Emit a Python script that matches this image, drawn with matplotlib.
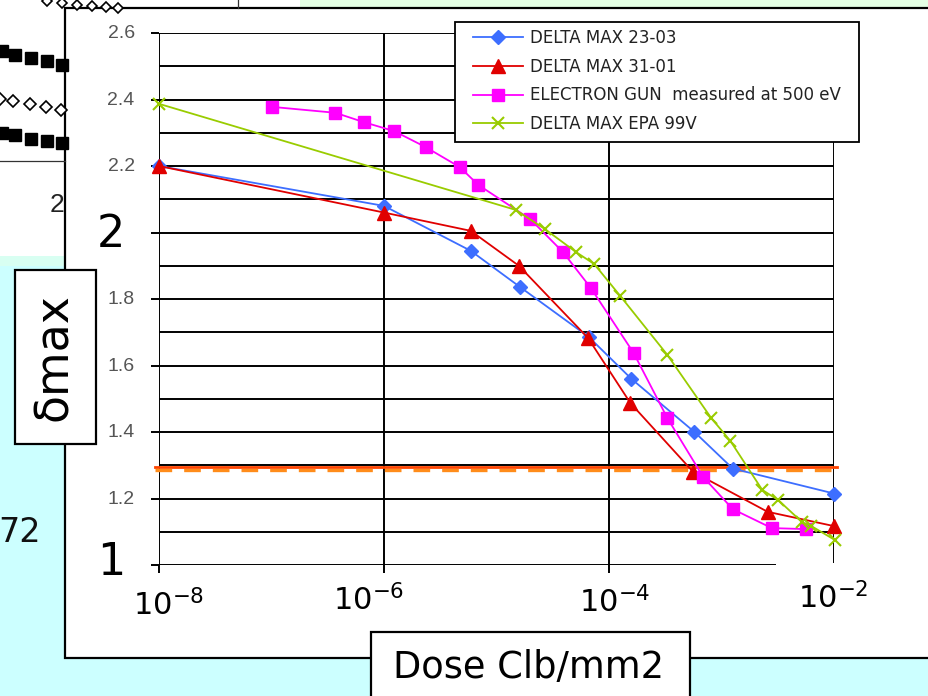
import matplotlib
matplotlib.use('Agg')
import matplotlib.pyplot as plt
from matplotlib.patches import Rectangle
from matplotlib.ticker import NullLocator, FixedLocator, NullFormatter
from matplotlib.transforms import offset_copy

# ---------------- data ----------------
dose_blue = [1e-8, 1e-6, 5.9e-6, 1.62e-5, 6.6e-5, 1.58e-4, 5.75e-4, 1.26e-3, 1e-2]
dmax_blue = [2.20, 2.08, 1.945, 1.836, 1.686, 1.56, 1.40, 1.29, 1.215]

dose_red = [1e-8, 1e-6, 5.9e-6, 1.58e-5, 6.5e-5, 1.55e-4, 5.6e-4, 2.57e-3, 1e-2]
dmax_red = [2.20, 2.06, 2.005, 1.90, 1.683, 1.487, 1.28, 1.16, 1.117]

dose_gun = [1e-7, 3.7e-7, 6.6e-7, 1.23e-6, 2.34e-6, 4.7e-6, 6.9e-6, 2.0e-5,
            3.9e-5, 6.9e-5, 1.66e-4, 3.3e-4, 6.9e-4, 1.26e-3, 2.8e-3, 5.6e-3]
dmax_gun = [2.378, 2.36, 2.332, 2.305, 2.257, 2.197, 2.143, 2.04,
            1.941, 1.833, 1.637, 1.442, 1.264, 1.168, 1.111, 1.108]

dose_epa = [1e-8, 1.48e-5, 2.7e-5, 5.1e-5, 7.4e-5, 1.26e-4, 3.3e-4, 8.1e-4,
            1.2e-3, 2.3e-3, 3.2e-3, 5.2e-3, 6.3e-3, 1.02e-2]
dmax_epa = [2.387, 2.068, 2.01, 1.941, 1.905, 1.809, 1.632, 1.442,
            1.373, 1.226, 1.195, 1.129, 1.117, 1.075]

threshold_dmax = 1.292

series_labels = ["DELTA MAX 23-03", "DELTA MAX 31-01",
                 "ELECTRON GUN  measured at 500 eV", "DELTA MAX EPA 99V"]

ytick_small = [2.6, 2.4, 2.2, 1.8, 1.6, 1.4, 1.2]
ytick_small_labels = ["2.6", "2.4", "2.2", "1.8", "1.6", "1.4", "1.2"]
ytick_big = [2.0, 1.0]
ytick_big_labels = ["2", "1"]
xtick_vals = [1e-8, 1e-6, 1e-4, 1e-2]
xtick_labels = [r"$10^{-8}$", r"$10^{-6}$", r"$10^{-4}$", r"$10^{-2}$"]

ylabel_text = "\u03b4max"
xlabel_text = "Dose Clb/mm2"
side_text = "72"
frag_text = "2"

# fragments of the neighbouring slide chart (top-left corner)
frag_sq1_x = [2, 15, 31, 47, 62]
frag_sq1_y = [51, 55, 58, 61, 65]
frag_dia_x = [0, 13, 30, 46, 61]
frag_dia_y = [99, 101, 104, 107, 110]
frag_sq2_x = [2, 15, 31, 47, 62]
frag_sq2_y = [133, 135, 139, 141, 143]
frag_top_x = [47, 62, 77, 92, 106, 118]
frag_top_y = [1, 3, 5, 6, 7, 8]

# ---------------- figure ----------------
W, H = 929, 696
fig = plt.figure(figsize=(W / 100, H / 100), dpi=100)
fig.patch.set_facecolor('#CCFFFF')

deco = fig.add_axes([0, 0, 1, 1], zorder=0)
deco.set_xlim(0, W)
deco.set_ylim(H, 0)
deco.axis('off')

# background regions
deco.add_patch(Rectangle((0, 0), 66, 258, facecolor='white', edgecolor='none'))
deco.add_patch(Rectangle((0, 0), 300, 8, facecolor='white', edgecolor='none'))
deco.add_patch(Rectangle((300, 0), W - 300, 8, facecolor='#E4FFE4', edgecolor='none'))
deco.add_patch(Rectangle((0, 256), 66, 10, facecolor='#D8FFF2', edgecolor='none'))
# white slide panel
deco.add_patch(Rectangle((65, 8), W, 650, facecolor='white', edgecolor='black', linewidth=1.6))

# fragments of other chart
deco.plot(frag_sq1_x, frag_sq1_y, ls='none', marker='s', ms=8, color='black')
deco.plot(frag_sq2_x, frag_sq2_y, ls='none', marker='s', ms=8, color='black')
deco.plot(frag_dia_x, frag_dia_y, ls='none', marker='D', ms=6, mfc='white', mec='black', mew=1.2)
deco.plot(frag_top_x, frag_top_y, ls='none', marker='D', ms=5, mfc='white', mec='black', mew=1.2)
deco.plot([0, 65], [161, 161], color='#333333', lw=0.9)
deco.plot([238, 238], [0, 8], color='#333333', lw=0.9)
deco.text(64, 212, frag_text, fontsize=19, family='Liberation Sans', ha='right', va='baseline', color='#222222')
deco.text(41, 542, side_text, fontsize=24, ha='right', va='baseline', color='#111111')

# label boxes
deco.add_patch(Rectangle((15, 270), 81, 174, facecolor='white', edgecolor='black', linewidth=1.6, zorder=3))
deco.text(55, 357, ylabel_text, fontsize=33, rotation=90, ha='center', va='center', color='black', zorder=4)
deco.add_patch(Rectangle((371, 632), 319, 80, facecolor='white', edgecolor='black', linewidth=1.6, zorder=3))
deco.text(529, 678, xlabel_text, fontsize=26.5, ha='center', va='baseline', color='black', zorder=4)

# ---------------- main chart ----------------
left, right, top, bottom = 159, 834, 33, 565
ax = fig.add_axes([left / W, 1 - bottom / H, (right - left) / W, (bottom - top) / H], zorder=2)
ax.patch.set_alpha(0)
ax.set_xscale('log')

style_common = dict(lw=1.3, clip_on=False, zorder=4)
ax.plot(dose_blue, dmax_blue, color='#3D6EFF', marker='D', ms=7.5, label=series_labels[0], **style_common)
ax.plot(dose_red, dmax_red, color='#E00000', marker='^', ms=9.5, label=series_labels[1], **style_common)
ax.plot(dose_gun, dmax_gun, color='#FF00FF', marker='s', ms=8.5, label=series_labels[2], **style_common)
ax.plot(dose_epa, dmax_epa, color='#99CC00', marker='x', ms=9, mew=1.5, label=series_labels[3], **style_common)

# threshold line (red solid over orange dashes)
ax.axhline(threshold_dmax + 0.003, color='#FF4400', lw=2.0, zorder=3, xmin=-0.006, xmax=1.005, clip_on=False)
ax.axhline(threshold_dmax - 0.006, color='#FF8C1A', lw=2.4, zorder=3, xmin=-0.006, xmax=1.005,
           clip_on=False, dashes=(5.0, 3.6))

ax.set_xlim(1e-8, 1e-2)
ax.set_ylim(1.0, 2.6)

ax.xaxis.set_major_locator(FixedLocator(xtick_vals))
ax.xaxis.set_minor_locator(NullLocator())
ax.xaxis.set_major_formatter(NullFormatter())
ax.yaxis.set_major_locator(FixedLocator([1.0, 1.2, 1.4, 1.6, 1.8, 2.0, 2.2, 2.4, 2.6]))
ax.yaxis.set_minor_locator(FixedLocator([1.1, 1.3, 1.5, 1.7, 1.9, 2.1, 2.3, 2.5]))
ax.yaxis.set_major_formatter(NullFormatter())
ax.yaxis.set_minor_formatter(NullFormatter())
ax.tick_params(axis='both', which='major', length=5.5, width=1.4, color='black', direction='out')
ax.tick_params(axis='y', which='minor', length=0)
ax.grid(True, axis='x', which='major', color='black', lw=1.4, zorder=1)
ax.grid(True, axis='y', which='both', color='black', lw=1.4, zorder=1)
ax.set_axisbelow(True)
for s in ax.spines.values():
    s.set_visible(False)

# y labels
ytrans = ax.get_yaxis_transform()
for v, t in zip(ytick_small, ytick_small_labels):
    ax.text(-0.036, v - 0.003, t, transform=ytrans, ha='right', va='center', fontsize=14,
            family='Liberation Sans', color='#555555')
ax.text(-0.05, 1.956, ytick_big_labels[0], transform=ytrans, ha='right', va='baseline', fontsize=32, color='black')
ax.text(-0.05, 0.97, ytick_big_labels[1], transform=ytrans, ha='right', va='baseline', fontsize=32, color='black')

# cover patch under 10^-2 label (as in slide)
ax.add_patch(Rectangle((776, 563), 120, 62, transform=deco.transData, facecolor='white',
                       edgecolor='none', zorder=6, clip_on=False))

# x labels
xtrans = ax.get_xaxis_transform()
x_dx = [10, -15, 6, -1]
x_base = [-0.095, -0.086, -0.090, -0.081]
for v, t, dx, yb in zip(xtick_vals, xtick_labels, x_dx, x_base):
    tr = offset_copy(xtrans, fig=fig, x=dx, y=0, units='dots')
    ax.text(v, yb, t, transform=tr, ha='center', va='baseline', fontsize=22, color='black', zorder=7)

# legend: manual frame + frameless legend
ax.add_patch(Rectangle((455, 22), 404, 120, transform=deco.transData, facecolor='white',
                       edgecolor='black', linewidth=1.3, zorder=7.5, clip_on=False))
leg = ax.legend(loc='upper left', bbox_to_anchor=(473 / W, 1 - 29 / H), bbox_transform=fig.transFigure,
                frameon=False, fontsize=12, handlelength=3.0, handletextpad=0.42,
                labelspacing=0.64, borderpad=0, borderaxespad=0)
for t in leg.get_texts():
    t.set_color('#222222')
leg.set_zorder(8)

fig.savefig('out.png', dpi=100, facecolor=fig.get_facecolor())
